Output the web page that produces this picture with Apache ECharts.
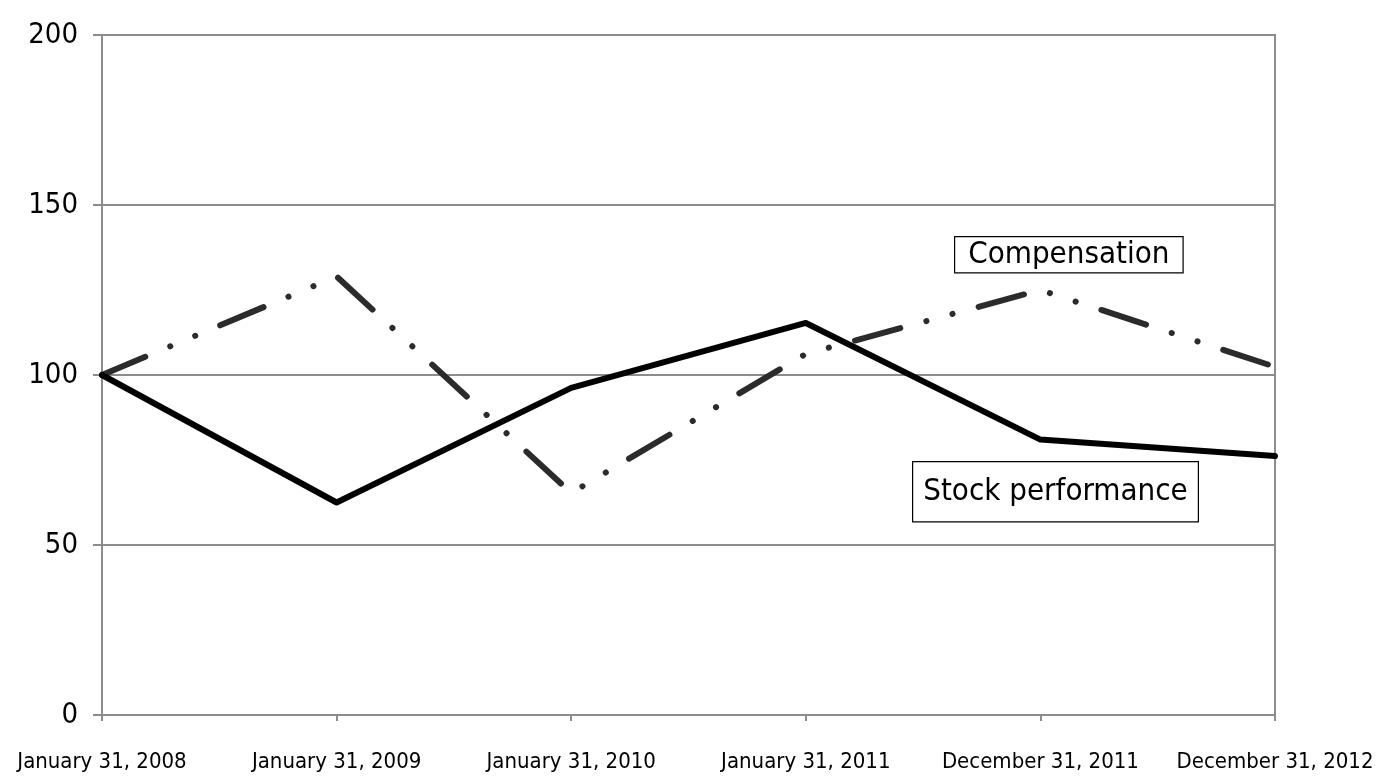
<!DOCTYPE html>
<html>
<head>
<meta charset="utf-8">
<script src="https://cdn.jsdelivr.net/npm/echarts@6/dist/echarts.min.js"></script>
<style>
  html, body { margin: 0; padding: 0; background: #fff; }
  #chart { width: 1382px; height: 780px; }
</style>
</head>
<body>
<div id="chart"></div>
<script>
const categories = ['January 31, 2008', 'January 31, 2009', 'January 31, 2010', 'January 31, 2011', 'December 31, 2011', 'December 31, 2012'];
const stockPerformance = [100, 62.5, 96.2, 115.3, 81, 76.2];
const compensation = [100, 129, 65.3, 106.2, 125, 102.4];
const yTicks = [0, 50, 100, 150, 200];

const FONT = '"Liberation Sans Narrow", "DejaVu Sans Condensed", "Roboto", sans-serif';
const GRAY = '#8c8c8c';

const chart = echarts.init(document.getElementById('chart'));

chart.setOption({
  animation: false,
  backgroundColor: '#fff',
  grid: {
    left: 102, right: 107, top: 35, bottom: 65,
    show: true, borderColor: GRAY, borderWidth: 2
  },
  xAxis: {
    type: 'category',
    data: categories,
    boundaryGap: false,
    axisLine: { lineStyle: { color: GRAY, width: 2 } },
    axisTick: { show: true, length: 6, lineStyle: { color: GRAY, width: 2 } },
    axisLabel: { color: '#000', fontFamily: FONT, fontSize: 22, margin: 36, interval: 0 },
    splitLine: { show: false }
  },
  yAxis: {
    type: 'value',
    min: yTicks[0],
    max: yTicks[yTicks.length - 1],
    interval: 50,
    axisLine: { show: true, lineStyle: { color: GRAY, width: 2 } },
    axisTick: { show: true, length: 9, lineStyle: { color: GRAY, width: 2 } },
    axisLabel: { color: '#000', fontFamily: FONT, fontSize: 29, margin: 24 },
    splitLine: { lineStyle: { color: GRAY, width: 2 } }
  },
  series: [
    {
      name: 'Compensation',
      type: 'line',
      data: compensation,
      symbol: 'none',
      z: 3,
      lineStyle: { color: '#2b2b2b', width: 6, cap: 'round', join: 'round', type: [47, 27, 0.1, 27, 0.1, 27] }
    },
    {
      name: 'Stock performance',
      type: 'line',
      data: stockPerformance,
      symbol: 'none',
      z: 4,
      lineStyle: { color: '#000', width: 6, cap: 'round', join: 'round', type: 'solid' }
    }
  ],
  graphic: [
    {
      type: 'text', left: 954, top: 236, z: 10,
      style: {
        text: 'Compensation', fontFamily: FONT, fontSize: 31, fill: '#000',
        backgroundColor: '#fff', borderColor: '#000', borderWidth: 1.2,
        padding: [2, 13, 2, 13]
      }
    },
    {
      type: 'text', left: 912, top: 461, z: 10,
      style: {
        text: 'Stock performance', fontFamily: FONT, fontSize: 31, fill: '#000',
        backgroundColor: '#fff', borderColor: '#000', borderWidth: 1.2,
        padding: [14, 10, 14, 10]
      }
    }
  ]
});
</script>
</body>
</html>
